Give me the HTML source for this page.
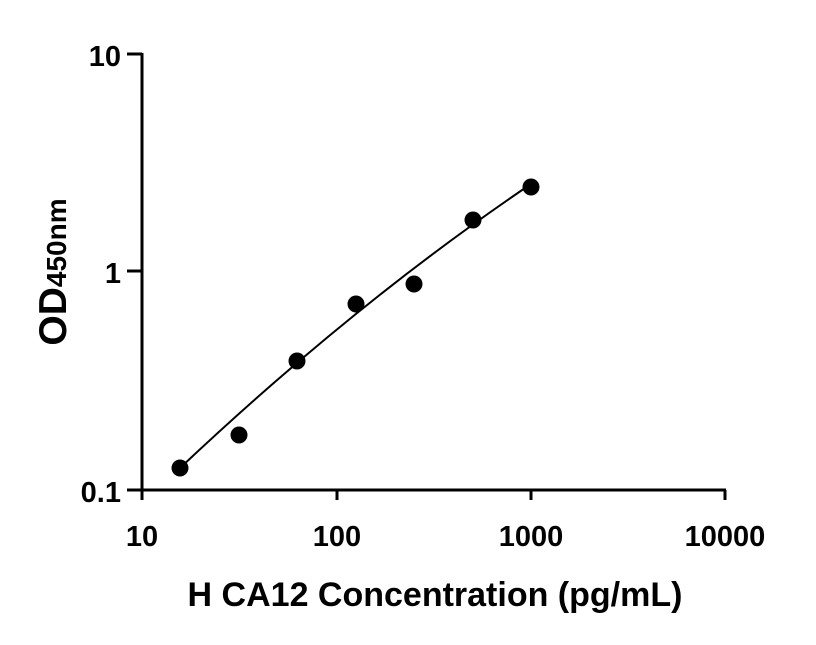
<!DOCTYPE html>
<html><head><meta charset="utf-8"><style>body{margin:0;background:#fff}</style></head>
<body>
<svg width="816" height="640" xmlns="http://www.w3.org/2000/svg" font-family="Liberation Sans, sans-serif" font-weight="bold">
<g stroke="#000" stroke-width="3" fill="none">
<line x1="142" y1="53" x2="142" y2="491"/>
<line x1="141" y1="490" x2="726" y2="490"/>
<line x1="127" y1="54" x2="142" y2="54"/>
<line x1="127" y1="271" x2="142" y2="271"/>
<line x1="127" y1="490" x2="142" y2="490"/>
<line x1="142" y1="490" x2="142" y2="500"/>
<line x1="337" y1="490" x2="337" y2="500"/>
<line x1="531" y1="490" x2="531" y2="500"/>
<line x1="725" y1="490" x2="725" y2="500"/>
</g>
<path d="M180,468 Q355,303 531,184" stroke="#000" stroke-width="2" fill="none"/>
<g fill="#000">
<circle cx="180" cy="468" r="8.5"/>
<circle cx="239" cy="435" r="8.5"/>
<circle cx="297" cy="361" r="8.5"/>
<circle cx="356" cy="304" r="8.5"/>
<circle cx="414" cy="284" r="8.5"/>
<circle cx="473" cy="220" r="8.5"/>
<circle cx="531" cy="187" r="8.5"/>
</g>
<g font-size="29" text-anchor="end">
<text x="121" y="66">10</text>
<text x="121" y="283">1</text>
<text x="121" y="502">0.1</text>
</g>
<g font-size="29" text-anchor="middle">
<text x="142" y="546">10</text>
<text x="337" y="546">100</text>
<text x="531" y="546">1000</text>
<text x="725" y="546">10000</text>
</g>
<text x="435" y="606" font-size="34" text-anchor="middle">H CA12 Concentration (pg/mL)</text>
<text transform="translate(66,272) rotate(-90)" font-size="39" text-anchor="middle">OD<tspan font-size="28">450nm</tspan></text>
</svg>
</body></html>
